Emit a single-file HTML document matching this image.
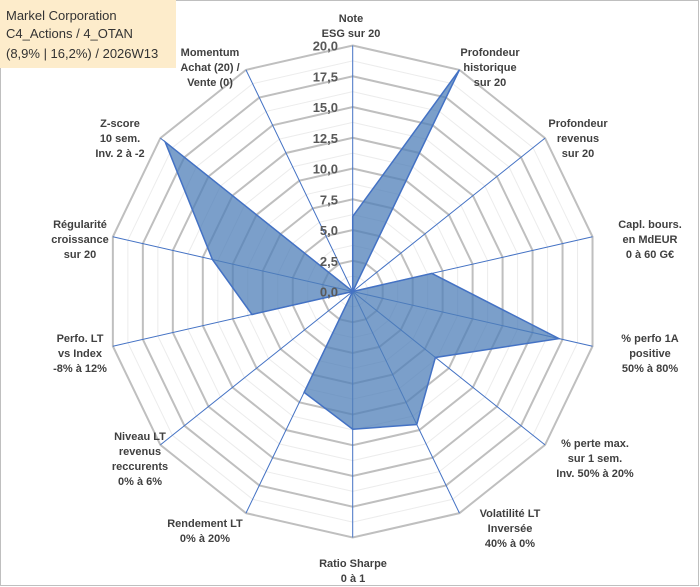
<!DOCTYPE html>
<html><head><meta charset="utf-8"><style>
body{margin:0;background:#fff}
svg{display:block;font-family:"Liberation Sans",sans-serif}
.lab{font-size:11px;font-weight:bold;fill:#404040}
.tick{font-size:13px;font-weight:bold;fill:#595959}
</style></head><body>
<svg id="chart" width="700" height="587" viewBox="0 0 700 587">
<rect x="0.5" y="0.5" width="698" height="585" fill="#fff" stroke="#bfbfbf"/>
<g id="grid"></g>
<g id="spokes"></g>
<g id="series"></g>
<g id="ticks"></g>
<g id="labels"></g>
<g>
<rect x="0" y="0" width="176" height="68" fill="#fdeccb"/>
<text x="6" y="20" font-size="13" fill="#333">Markel Corporation</text>
<text x="6" y="38" font-size="13" fill="#333">C4_Actions / 4_OTAN</text>
<text x="6" y="58" font-size="13" fill="#333">(8,9% | 16,2%) / 2026W13</text>
</g>
</svg>
<script>
const categories=[["Note","ESG sur 20"],["Profondeur","historique","sur 20"],["Profondeur","revenus","sur 20"],["Capl. bours.","en MdEUR","0 à 60 G€"],["% perfo 1A","positive","50% à 80%"],["% perte max.","sur 1 sem.","Inv. 50% à 20%"],["Volatilité LT","Inversée","40% à 0%"],["Ratio Sharpe","0 à 1"],["Rendement LT","0% à 20%"],["Niveau LT","revenus","reccurents","0% à 6%"],["Perfo. LT","vs Index","-8% à 12%"],["Régularité","croissance","sur 20"],["Z-score","10 sem.","Inv. 2 à -2"],["Momentum","Achat (20) /","Vente (0)"]];
const values=[6.1,20,0,6.6,17.2,8.6,12,11.2,9.1,0,8.4,11.7,19.5,0];
const tickLabels=["0,0","2,5","5,0","7,5","10,0","12,5","15,0","17,5","20,0"];
const labelPos=[[351,12],[490,46],[578,117],[650,218],[650,332],[595,437],[510,507],[353,557],[205,517],[140,430],[80,332],[80,218],[120,117],[210,46]];
const NS="http://www.w3.org/2000/svg";
const cx=352.7,cy=291.5,R=246,maxV=20,N=categories.length;
function r(v){return v/maxV*R;}
function pt(i,v){const a=i*2*Math.PI/N;return [cx+r(v)*Math.sin(a),cy-r(v)*Math.cos(a)];}
function mk(tag,attrs,parent){const e=document.createElementNS(NS,tag);for(const k in attrs)e.setAttribute(k,attrs[k]);document.getElementById(parent).appendChild(e);return e;}
for(let k=1;k<=16;k++){const v=k*1.25;const pts=[];for(let i=0;i<N;i++)pts.push(pt(i,v).join(","));
const major=k%2===0;
const g=mk("polygon",{points:pts.join(" "),fill:"none",stroke:major?"#bfbfbf":"#ececec","stroke-width":major?2:1},"grid");

}
for(let i=0;i<N;i++){const p=pt(i,maxV);const l=mk("line",{x1:cx,y1:cy,x2:p[0],y2:p[1],stroke:"#4472c4","stroke-width":1},"spokes");

}
const sp=values.map((v,i)=>pt(i,v).join(",")).join(" ");
const poly=mk("polygon",{points:sp,fill:"#4f7fb8","fill-opacity":0.75,stroke:"#4472c4","stroke-width":1.5},"series");


tickLabels.forEach((t,k)=>{const y=cy-r(k*2.5);const e=mk("text",{x:338,y:y+5,"text-anchor":"end",class:"tick"},"ticks");e.textContent=t;

});
categories.forEach((lines,i)=>{const [x,y]=labelPos[i];const e=mk("text",{x:x,y:y+10,"text-anchor":"middle",class:"lab"},"labels");


lines.forEach((s,j)=>{const ts=document.createElementNS(NS,"tspan");ts.setAttribute("x",x);ts.setAttribute("dy",j?15:0);ts.textContent=s;e.appendChild(ts);});});
</script>
</body></html>
